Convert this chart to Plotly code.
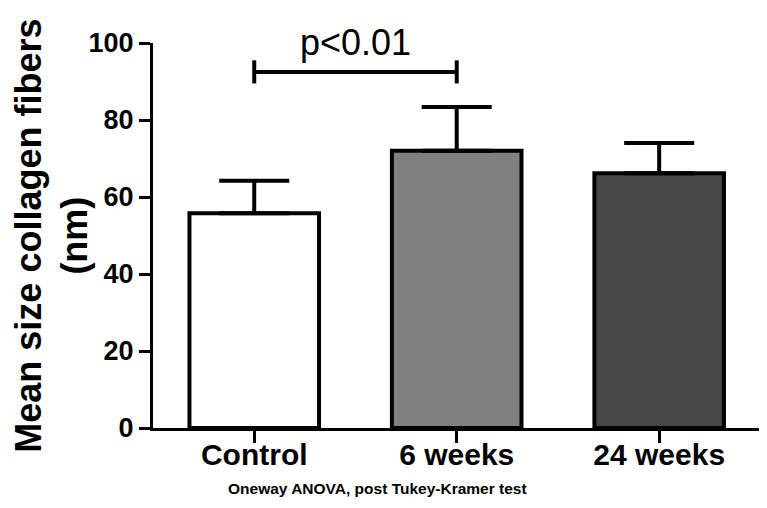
import plotly.graph_objects as go

# values
groups = ['Control', '6 weeks', '24 weeks']
mean_size = [55.8, 72.0, 66.2]
sd_size = [8.4, 11.4, 7.8]
bar_colors = ['#ffffff', '#808080', '#474747']
y_ticks = [0, 20, 40, 60, 80, 100]

sig_pair = ('Control', '6 weeks')
sig_y = 92.5
sig_text = 'p<0.01'
y_title = 'Mean size collagen fibers<br>(nm)'
footnote = 'Oneway ANOVA, post Tukey-Kramer test'

FONT = 'Arial, Liberation Sans, sans-serif'


def main():
    fig = go.Figure()
    fig.add_trace(go.Bar(
        x=groups,
        y=mean_size,
        width=0.64,
        marker=dict(color=bar_colors, line=dict(color='black', width=4)),
        error_y=dict(type='data', symmetric=False, array=sd_size,
                     arrayminus=[0] * len(sd_size),
                     color='black', thickness=4, width=35),
        showlegend=False,
    ))

    # significance bracket
    a = groups.index(sig_pair[0])
    b = groups.index(sig_pair[1])
    line = dict(color='black', width=4)
    fig.add_shape(type='line', xref='x', yref='y', x0=a, x1=b, y0=sig_y, y1=sig_y, line=line)
    fig.add_shape(type='line', xref='x', yref='y', x0=a, x1=a, y0=sig_y - 3, y1=sig_y + 3, line=line)
    fig.add_shape(type='line', xref='x', yref='y', x0=b, x1=b, y0=sig_y - 3, y1=sig_y + 3, line=line)
    fig.add_annotation(x=(a + b) / 2, y=100, xref='x', yref='y', text=sig_text,
                       showarrow=False, yanchor='middle', yshift=1,
                       font=dict(family=FONT, size=36, color='black'))

    # y title as a rotated annotation so it can sit closer to the edge
    fig.add_annotation(x=-0.168, y=0.5, xref='paper', yref='paper', text='<b>' + y_title + '</b>',
                       textangle=-90, showarrow=False, xanchor='center', yanchor='middle',
                       font=dict(family=FONT, size=36, color='black'))

    fig.add_annotation(x=0.37, y=-0.158, xref='paper', yref='paper', text='<b>' + footnote + '</b>',
                       showarrow=False, yanchor='middle',
                       font=dict(family=FONT, size=15.5, color='black'))

    # page body keeps an 8px margin, so the figure is sized to fit inside it
    fig.update_layout(
        width=751, height=492,
        margin=dict(l=145, r=0, t=35, b=72),
        plot_bgcolor='white', paper_bgcolor='white',
        font=dict(family=FONT, color='black'),
        xaxis=dict(
            type='category', range=[-0.5, 2.493],
            showline=True, linecolor='black', linewidth=3,
            ticks='outside', ticklen=12, tickwidth=3, tickcolor='black',
            tickfont=dict(family=FONT, size=30, color='black', weight='bold'),
            ticklabelstandoff=-14,
            showgrid=False, zeroline=False,
        ),
        yaxis=dict(
            range=[0, 100], tickvals=y_ticks,
            showline=True, linecolor='black', linewidth=3,
            ticks='outside', ticklen=11, tickwidth=3, tickcolor='black',
            tickfont=dict(family=FONT, size=27, color='black', weight='bold'),
            showgrid=False, zeroline=False,
        ),
    )
    fig.write_html('out.html')


if __name__ == '__main__':
    main()
